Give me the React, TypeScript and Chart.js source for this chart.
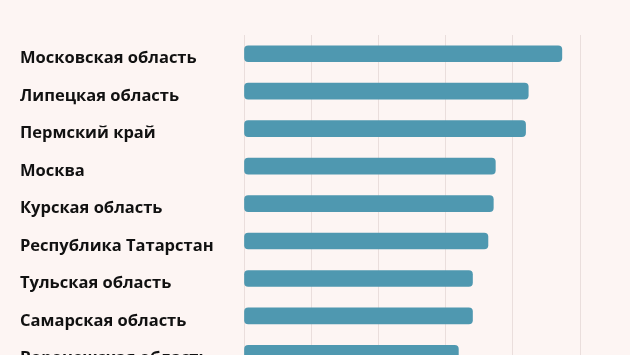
import React, { useEffect, useRef } from "react";
import { Chart, registerables } from "chart.js";

Chart.register(...registerables);

const regions = [
  "Московская область",
  "Липецкая область",
  "Пермский край",
  "Москва",
  "Курская область",
  "Республика Татарстан",
  "Тульская область",
  "Самарская область",
  "Воронежская область",
];
const values = [4.73, 4.23, 4.19, 3.74, 3.71, 3.63, 3.4, 3.4, 3.19];
const axisMax = 5;
const axisStep = 1;

export default function App() {
  const ref = useRef<HTMLCanvasElement | null>(null);
  useEffect(() => {
    if (!ref.current) return;
    const chart = new Chart(ref.current, {
      type: "bar",
      data: {
        labels: regions,
        datasets: [
          {
            data: values,
            backgroundColor: "#4f98b0",
            borderRadius: 4,
            borderSkipped: false,
            barThickness: 16,
          },
        ],
      },
      options: {
        indexAxis: "y",
        animation: false,
        responsive: true,
        maintainAspectRatio: false,
        layout: { padding: { left: 20, right: 50, top: 35, bottom: 0 } },
        plugins: { legend: { display: false }, tooltip: { enabled: false } },
        scales: {
          x: {
            min: 0,
            max: axisMax,
            ticks: { display: false, stepSize: axisStep },
            grid: { color: "#eadedc", drawTicks: false },
            border: { display: false },
          },
          y: {
            grid: { display: false },
            border: { display: false },
            ticks: {
              crossAlign: "far",
              color: "#111111",
              labelOffset: 5,
              font: { family: "Open Sans", weight: "bold", size: 16.5 },
            },
            afterFit: (s: any) => {
              s.width = 224;
            },
          },
        },
      },
    });
    return () => chart.destroy();
  }, []);
  return (
    <div
      style={{
        position: "fixed",
        left: 0,
        top: 0,
        width: 630,
        height: 355,
        overflow: "hidden",
        background: "#fdf5f3",
      }}
    >
      <div style={{ position: "relative", width: 630, height: 385 }}>
        <canvas ref={ref} />
      </div>
    </div>
  );
}
